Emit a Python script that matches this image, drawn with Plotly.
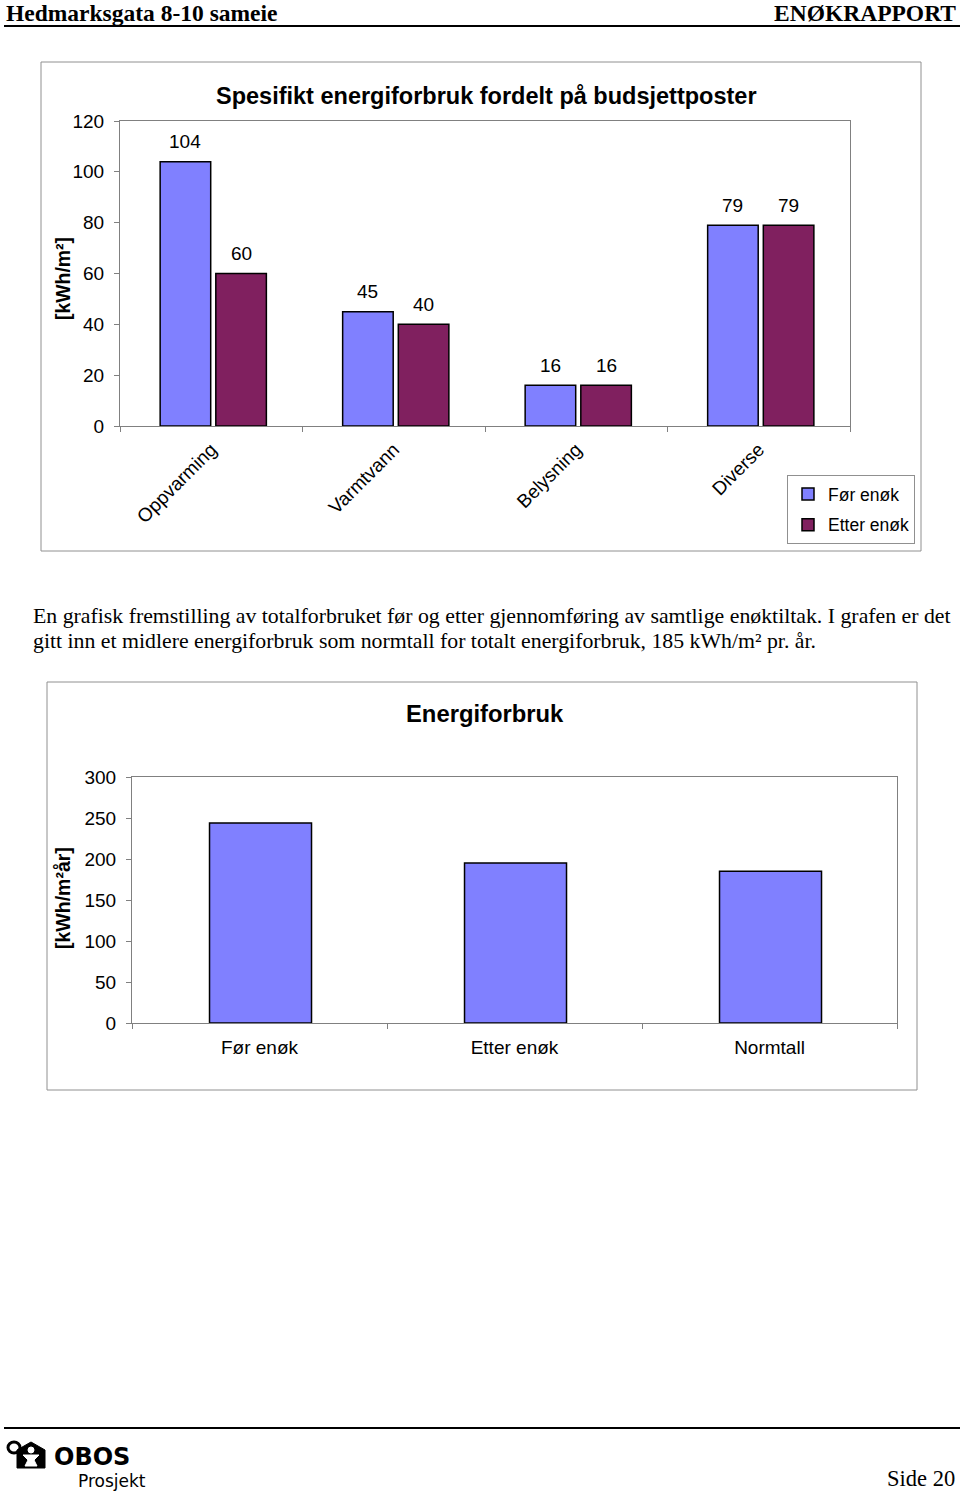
import plotly.graph_objects as go

W, H = 960, 1493

def px(x):
    return x / W

def py(y):
    return 1 - y / H

# ---------------- data ----------------
cat1 = ["Oppvarming", "Varmtvann", "Belysning", "Diverse"]
for_enok = [104, 45, 16, 79]
etter_enok = [60, 40, 16, 79]

cat2 = ["Før enøk", "Etter enøk", "Normtall"]
total2 = [244, 195, 185]

y1_ticks = [0, 20, 40, 60, 80, 100, 120]
y2_ticks = [0, 50, 100, 150, 200, 250, 300]

C_FOR = "#8080FF"
C_ETTER = "#80205F"
SANS = "Liberation Sans, Arial, sans-serif"
SERIF = "Liberation Serif, Times New Roman, serif"

BAR_W = 0.277
OFF_FOR = -0.28
OFF_ETTER = 0.025

fig = go.Figure()

fig.add_trace(go.Bar(
    x=cat1, y=for_enok, name="Før enøk", marker=dict(color=C_FOR, line=dict(color="black", width=1.5)),
    width=BAR_W, offset=OFF_FOR, xaxis="x", yaxis="y", legendgroup="a"))
fig.add_trace(go.Bar(
    x=cat1, y=etter_enok, name="Etter enøk", marker=dict(color=C_ETTER, line=dict(color="black", width=1.5)),
    width=BAR_W, offset=OFF_ETTER, xaxis="x", yaxis="y", legendgroup="b"))
fig.add_trace(go.Bar(
    x=cat2, y=total2, name="Energiforbruk", showlegend=False,
    marker=dict(color=C_FOR, line=dict(color="black", width=1.5)),
    width=0.4, offset=-0.196,
    xaxis="x2", yaxis="y2"))

axis_common = dict(showline=True, linecolor="#808080", linewidth=1, mirror=True,
                   showgrid=False, zeroline=False, ticks="outside", ticklen=5,
                   tickcolor="#808080", tickfont=dict(family=SANS, size=19, color="black"),
                   automargin=False)

shapes = []
# page frames
shapes.append(dict(type="rect", xref="paper", yref="paper", x0=px(41), x1=px(921), y0=py(551), y1=py(62),
                   line=dict(color="#909090", width=1), fillcolor="white", layer="below"))
shapes.append(dict(type="rect", xref="paper", yref="paper", x0=px(47), x1=px(917), y0=py(1090), y1=py(682),
                   line=dict(color="#909090", width=1), fillcolor="white", layer="below"))
# header / footer lines
shapes.append(dict(type="line", xref="paper", yref="paper", x0=px(4), x1=px(960), y0=py(26), y1=py(26),
                   line=dict(color="black", width=2)))
shapes.append(dict(type="line", xref="paper", yref="paper", x0=px(4), x1=px(960), y0=py(1428), y1=py(1428),
                   line=dict(color="black", width=2)))
# simple logo glyph
shapes.append(dict(type="circle", xref="paper", yref="paper", x0=px(8), x1=px(20), y0=py(1453), y1=py(1442),
                   fillcolor="white", line=dict(color="black", width=3)))
shapes.append(dict(type="path", xref="paper", yref="paper",
                   path=f"M{px(17)},{py(1468)} L{px(17)},{py(1450)} L{px(31)},{py(1442)} L{px(45)},{py(1450)} L{px(45)},{py(1468)} Z",
                   fillcolor="black", line=dict(color="black", width=1)))
shapes.append(dict(type="circle", xref="paper", yref="paper", x0=px(28), x1=px(34), y0=py(1453), y1=py(1447),
                   fillcolor="white", line=dict(color="white", width=1)))
shapes.append(dict(type="path", xref="paper", yref="paper",
                   path=f"M{px(23)},{py(1455)} L{px(39)},{py(1455)} L{px(34)},{py(1460)} L{px(37)},{py(1466)} L{px(25)},{py(1466)} L{px(28)},{py(1460)} Z",
                   fillcolor="white", line=dict(color="white", width=1)))

annotations = [
    dict(text="<b>Hedmarksgata 8-10 sameie</b>", x=px(4), y=py(13), xanchor="left", yanchor="middle",
         font=dict(family=SERIF, size=23.5, color="black")),
    dict(text="<b>ENØKRAPPORT</b>", x=px(958), y=py(13), xanchor="right", yanchor="middle",
         font=dict(family=SERIF, size=23.5, color="black")),
    dict(text="<b>Spesifikt energiforbruk fordelt på budsjettposter</b>", x=px(486), y=py(96),
         xanchor="center", yanchor="middle", font=dict(family=SANS, size=23.5, color="black")),
    dict(text="<b>[kWh/m²]</b>", x=px(63), y=py(279), xanchor="center", yanchor="middle", textangle=-90,
         font=dict(family=SANS, size=19.4, color="black")),
    dict(text="En grafisk fremstilling av totalforbruket før og etter gjennomføring av samtlige enøktiltak. I grafen er det",
         x=px(31), y=py(616), xanchor="left", yanchor="middle", font=dict(family=SERIF, size=21.8, color="black")),
    dict(text="gitt inn et midlere energiforbruk som normtall for totalt energiforbruk, 185 kWh/m² pr. år.",
         x=px(31), y=py(641), xanchor="left", yanchor="middle", font=dict(family=SERIF, size=21.8, color="black")),
    dict(text="<b>Energiforbruk</b>", x=px(485), y=py(713), xanchor="center", yanchor="middle",
         font=dict(family=SANS, size=23.8, color="black")),
    dict(text="<b>[kWh/m²år]</b>", x=px(63), y=py(898), xanchor="center", yanchor="middle", textangle=-90,
         font=dict(family=SANS, size=19.5, color="black")),
    dict(text="<b>OBOS</b>", x=px(52), y=py(1457), xanchor="left", yanchor="middle",
         font=dict(family="DejaVu Sans, sans-serif", size=24, color="black")),
    dict(text="Prosjekt", x=px(76), y=py(1481), xanchor="left", yanchor="middle",
         font=dict(family="DejaVu Sans, sans-serif", size=17, color="black")),
    dict(text="Side 20", x=px(957), y=py(1493), xanchor="right", yanchor="bottom",
         font=dict(family=SERIF, size=22.5, color="black")),
]
for a in annotations:
    a.update(xref="paper", yref="paper", showarrow=False)

# data labels placed through the data axes
for vals, off in ((for_enok, OFF_FOR), (etter_enok, OFF_ETTER)):
    for i, v in enumerate(vals):
        annotations.append(dict(text=str(v), x=i + off + BAR_W / 2, y=v, xref="x", yref="y",
                                xanchor="center", yanchor="middle", yshift=20, showarrow=False,
                                font=dict(family=SANS, size=19, color="black")))

fig.update_layout(
    width=W, height=H, margin=dict(l=0, r=0, t=0, b=0, pad=0, autoexpand=False),
    paper_bgcolor="white", plot_bgcolor="#CCCCCC",
    barmode="group",
    xaxis=dict(domain=[px(120), px(850)], anchor="y", tickangle=-45, tickson="boundaries",
               ticklabelstandoff=4, **axis_common),
    yaxis=dict(domain=[py(426), py(121)], anchor="x", range=[0, 120], tickvals=y1_ticks,
               ticklabelstandoff=6, **axis_common),
    xaxis2=dict(domain=[px(132), px(897)], anchor="y2", tickangle=0, tickson="boundaries",
                ticklabelstandoff=7, **axis_common),
    yaxis2=dict(domain=[py(1023), py(777)], anchor="x2", range=[0, 300], tickvals=y2_ticks,
                ticklabelstandoff=6, **axis_common),
    legend=dict(x=px(787), y=py(475), xanchor="left", yanchor="top", xref="paper", yref="paper",
                bordercolor="#909090", borderwidth=1, bgcolor="white", tracegroupgap=5,
                font=dict(family=SANS, size=17.5, color="black"), traceorder="grouped",
                itemwidth=30),
    shapes=shapes, annotations=annotations,
)

fig.write_html("out.html", config={"displayModeBar": False},
               post_script="document.body.style.margin='0';document.body.style.padding='0';")
